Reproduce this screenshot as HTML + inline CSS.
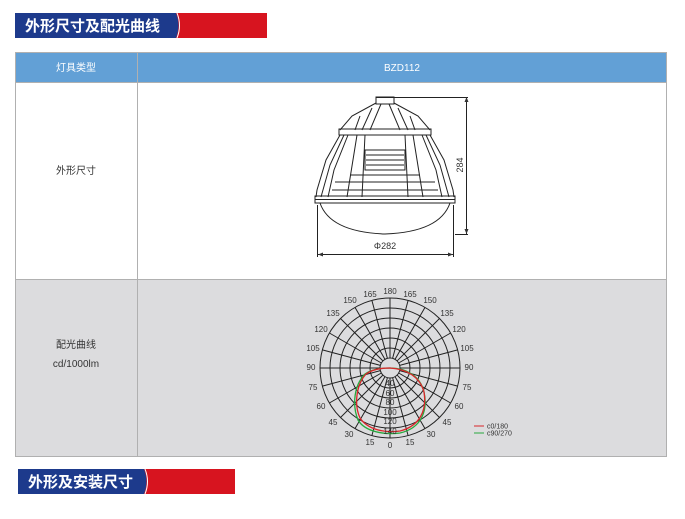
<!DOCTYPE html>
<html><head><meta charset="utf-8"><style>
body{margin:0;width:685px;height:519px;background:#fff;position:relative;overflow:hidden;font-family:"Liberation Sans","Noto Sans CJK SC",sans-serif}
.abs{position:absolute}
</style></head><body>
<svg class="abs" style="left:0;top:0" width="685" height="519" viewBox="0 0 685 519" font-family="Liberation Sans, Noto Sans CJK SC, sans-serif">
<!-- title 1 -->
<rect x="15" y="13" width="252" height="25" fill="#d7141f"/>
<path d="M15 13 H176 Q181 25.5 176 38 H15 Z" fill="#1d3a8c"/>
<path d="M177 13 Q182 25.5 177 38" fill="none" stroke="#fff" stroke-width="1"/>
<text x="25" y="31" fill="#fff" font-size="15" font-weight="bold" font-family="Noto Sans CJK SC, sans-serif">外形尺寸及配光曲线</text>
<!-- table -->
<rect x="15" y="52" width="652" height="30" fill="#62a0d6"/>
<rect x="15" y="279" width="652" height="178" fill="#dcdcde"/>
<g stroke="#b0b0b0" stroke-width="1" fill="none">
<rect x="15.5" y="52.5" width="651" height="404"/>
<line x1="137.5" y1="52" x2="137.5" y2="457"/>
<line x1="15" y1="82.5" x2="667" y2="82.5"/>
<line x1="15" y1="279.5" x2="667" y2="279.5"/>
</g>
<text x="76" y="71" fill="#fff" font-size="10" text-anchor="middle">灯具类型</text>
<text x="402" y="71" fill="#fff" font-size="10" text-anchor="middle">BZD112</text>
<text x="76" y="174" fill="#333" font-size="10" text-anchor="middle">外形尺寸</text>
<text x="76" y="348" fill="#333" font-size="10" text-anchor="middle">配光曲线</text>
<text x="76" y="367" fill="#333" font-size="10" text-anchor="middle">cd/1000lm</text>
<!-- lamp -->
<g stroke="#222" stroke-width="1" fill="none">
<line x1="376" y1="97.5" x2="468" y2="97.5"/>
<rect x="376" y="97" width="18" height="7"/>
<path d="M376 103 L352 116 L340 130 M394 103 L418 116 L430 130"/>
<path d="M381 104 L370 130 M389 104 L400 130 M360 116 L355 130 M410 116 L415 130 M372 108 L362 130 M398 108 L408 130"/>
<rect x="339" y="129" width="92" height="6"/>
<path d="M340 135 L326 160 L317 190 L316 197 M430 135 L444 160 L453 190 L454 197"/>
<path d="M344 135 L330 165 L321 197 M426 135 L440 165 L449 197"/>
<path d="M348 135 L334 170 L328 197 M422 135 L436 170 L442 197"/>
<path d="M357 135 L347 197 M413 135 L423 197 M365 135 L362 197 M405 135 L408 197"/>
<rect x="365" y="150" width="40" height="20"/>
<line x1="366" y1="155" x2="404" y2="155"/><line x1="366" y1="160" x2="404" y2="160"/><line x1="366" y1="165" x2="404" y2="165"/>
<path d="M335 182 H435 M350 175 H420 M332 190 H438"/>
<rect x="315" y="196" width="140" height="7"/>
<line x1="315" y1="199.5" x2="455" y2="199.5"/>
<path d="M320 203 Q330 232 385 234 Q440 232 450 203"/>
<line x1="455" y1="234.5" x2="468" y2="234.5"/>
<line x1="466.5" y1="97" x2="466.5" y2="234"/>
<line x1="317.5" y1="205" x2="317.5" y2="257"/>
<line x1="453.5" y1="205" x2="453.5" y2="257"/>
<line x1="318" y1="254.5" x2="453" y2="254.5"/>
</g>
<path d="M318 254.5 l5 -2 v4 z M453 254.5 l-5 -2 v4 z M466.5 97 l-2 5 h4 z M466.5 234 l-2 -5 h4 z" fill="#333"/>
<text x="385" y="249" font-size="9" fill="#333" text-anchor="middle">Φ282</text>
<text transform="translate(463 165) rotate(-90)" font-size="9" fill="#333" text-anchor="middle">284</text>
<!-- polar -->
<g transform="translate(390 368)" stroke="#222" stroke-width="1" fill="none">
<circle r="10"/><circle r="20"/><circle r="30"/><circle r="40"/><circle r="50"/><circle r="60"/><circle r="70"/>
<g id="rl"><line x1="0" y1="10" x2="0" y2="70"/></g>
<use href="#rl" transform="rotate(15)"/><use href="#rl" transform="rotate(30)"/><use href="#rl" transform="rotate(45)"/><use href="#rl" transform="rotate(60)"/><use href="#rl" transform="rotate(75)"/><use href="#rl" transform="rotate(90)"/><use href="#rl" transform="rotate(105)"/><use href="#rl" transform="rotate(120)"/><use href="#rl" transform="rotate(135)"/><use href="#rl" transform="rotate(150)"/><use href="#rl" transform="rotate(165)"/><use href="#rl" transform="rotate(180)"/><use href="#rl" transform="rotate(195)"/><use href="#rl" transform="rotate(210)"/><use href="#rl" transform="rotate(225)"/><use href="#rl" transform="rotate(240)"/><use href="#rl" transform="rotate(255)"/><use href="#rl" transform="rotate(270)"/><use href="#rl" transform="rotate(285)"/><use href="#rl" transform="rotate(300)"/><use href="#rl" transform="rotate(315)"/><use href="#rl" transform="rotate(330)"/><use href="#rl" transform="rotate(345)"/>
<line x1="-70" y1="0" x2="-10" y2="0"/><line x1="10" y1="0" x2="70" y2="0"/>
</g>
<path d="M390 368 C405 368 420 375 424 392 C428 410 422 428 400 433 C385 435 365 432 358 420 C352 405 354 385 365 374 C372 369 382 368 390 368 Z" fill="none" stroke="#27a83e" stroke-width="1.3"/>
<path d="M390 368 C407 369 420 377 424 392 C427 410 420 426 400 431 C385 433 368 430 360 418 C354 405 356 385 366 374 C373 369 382 368 390 368 Z" fill="none" stroke="#d9262a" stroke-width="1.3"/>
<g font-size="8" fill="#333" text-anchor="middle" dominant-baseline="middle">
<text x="390" y="446">0</text>
<text x="410" y="443">15</text><text x="370" y="443">15</text>
<text x="431" y="435">30</text><text x="349" y="435">30</text>
<text x="447" y="423">45</text><text x="333" y="423">45</text>
<text x="459" y="407">60</text><text x="321" y="407">60</text>
<text x="467" y="388">75</text><text x="313" y="388">75</text>
<text x="469" y="368">90</text><text x="311" y="368">90</text>
<text x="467" y="349">105</text><text x="313" y="349">105</text>
<text x="459" y="330">120</text><text x="321" y="330">120</text>
<text x="447" y="314">135</text><text x="333" y="314">135</text>
<text x="430" y="301">150</text><text x="350" y="301">150</text>
<text x="410" y="295">165</text><text x="370" y="295">165</text>
<text x="390" y="292">180</text>
<text x="390" y="384">40</text><text x="390" y="394">60</text><text x="390" y="403">80</text><text x="390" y="413">100</text><text x="390" y="422">120</text><text x="390" y="432">140</text>
</g>
<line x1="474" y1="426" x2="484" y2="426" stroke="#d9262a" stroke-width="1"/>
<line x1="474" y1="433" x2="484" y2="433" stroke="#27a83e" stroke-width="1"/>
<text x="487" y="428.5" font-size="7" fill="#333">c0/180</text>
<text x="487" y="435.5" font-size="7" fill="#333">c90/270</text>
<!-- title 2 -->
<rect x="18" y="469" width="217" height="25" fill="#d7141f"/>
<path d="M18 469 H144 Q149 481.5 144 494 H18 Z" fill="#1d3a8c"/>
<path d="M145 469 Q150 481.5 145 494" fill="none" stroke="#fff" stroke-width="1"/>
<text x="28" y="487" fill="#fff" font-size="15" font-weight="bold" font-family="Noto Sans CJK SC, sans-serif">外形及安装尺寸</text>
</svg>
</body></html>
